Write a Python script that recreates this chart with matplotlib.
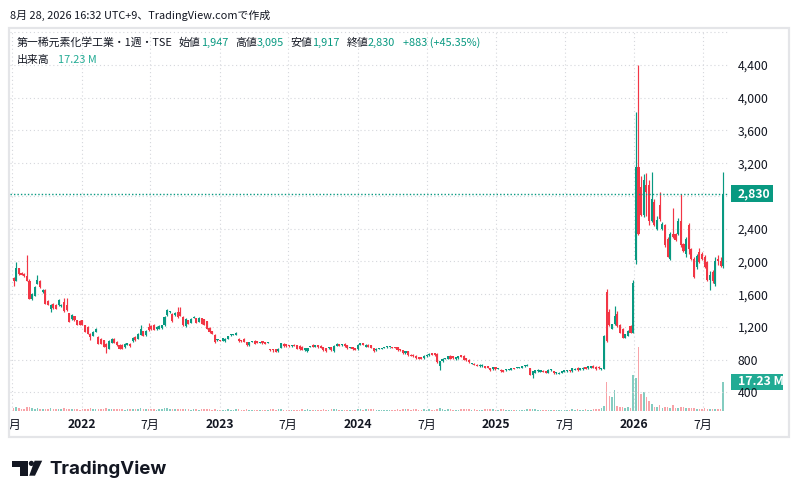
import numpy as np
import pandas as pd
import matplotlib
matplotlib.use("Agg")
import matplotlib.pyplot as plt
import matplotlib.dates as mdates
from matplotlib.patches import Rectangle, Polygon, Circle
from matplotlib.transforms import Bbox

plt.rcParams['font.family'] = ['Noto Sans CJK JP', 'DejaVu Sans']

# weekly candles, first bar = week of 2021-07-05
first_week = '2021-07-05'

opens = [
    1794, 1766, 1919, 1860, 1850, 1820, 1766, 1545, 1584, 1725,
    1766, 1624, 1653, 1523, 1422, 1483, 1471, 1463, 1455, 1503,
    1463, 1370, 1293, 1329, 1281, 1273, 1281, 1220, 1200, 1119,
    1091, 1140, 1079, 1051, 1038, 998, 937, 1006, 1051, 1018,
    986, 986, 954, 978, 998, 1026, 1079, 1059, 1107, 1148,
    1100, 1200, 1212, 1228, 1172, 1180, 1188, 1220, 1342, 1383,
    1363, 1342, 1383, 1383, 1322, 1212, 1281, 1253, 1310, 1310,
    1261, 1310, 1294, 1269, 1188, 1151, 1106, 1037, 1040, 1033,
    1025, 1058, 1098, 1100, 1106, 1058, 1037, 1058, 1017, 976,
    1017, 1033, 1025, 1009, 1025, 1017, 1005, 923, 923, 927,
    902, 942, 995, 991, 975, 965, 983, 975, 971, 955,
    914, 902, 955, 983, 955, 975, 971, 955, 942, 938,
    955, 902, 971, 991, 975, 995, 975, 942, 955, 942,
    930, 983, 1004, 955, 983, 975, 942, 914, 930, 930,
    942, 950, 953, 955, 955, 955, 922, 914, 881, 906,
    861, 861, 849, 833, 828, 820, 841, 853, 881, 881,
    873, 719, 780, 808, 808, 849, 841, 808, 820, 853,
    849, 820, 800, 751, 751, 739, 719, 719, 719, 719,
    698, 686, 710, 690, 678, 670, 670, 678, 678, 698,
    698, 698, 698, 719, 727, 698, 617, 637, 658, 649,
    666, 658, 637, 670, 664, 635, 627, 644, 656, 660,
    672, 660, 680, 705, 680, 684, 713, 696, 705, 725,
    717, 717, 684, 690, 1630, 1380, 1180, 1234, 1356, 1225,
    1180, 1071, 1091, 1213, 1132, 2020, 3150, 2910, 2570, 2940,
    2940, 2490, 2730, 2400, 2690, 2400, 2440, 2280, 2030, 2340,
    2330, 2340, 2500, 2210, 2090, 2440, 2150, 2030, 1930, 2110,
    2090, 2050, 1990, 1770, 1870, 1730, 2030, 2010, 1947,
]

highs = [
    1810, 1990, 1925, 1870, 1860, 2075, 1780, 1620, 1705, 1830,
    1770, 1665, 1660, 1530, 1480, 1490, 1480, 1540, 1480, 1560,
    1560, 1375, 1360, 1335, 1285, 1280, 1290, 1225, 1210, 1125,
    1150, 1190, 1085, 1060, 1045, 1005, 1035, 1065, 1060, 1025,
    990, 992, 1005, 1010, 1005, 1075, 1085, 1125, 1228, 1155,
    1160, 1253, 1220, 1235, 1210, 1220, 1228, 1330, 1416, 1400,
    1370, 1385, 1444, 1444, 1330, 1310, 1290, 1310, 1334, 1315,
    1318, 1315, 1300, 1275, 1195, 1155, 1110, 1050, 1045, 1070,
    1065, 1095, 1110, 1110, 1140, 1062, 1040, 1060, 1022, 1020,
    1030, 1037, 1030, 1022, 1030, 1022, 1015, 927, 927, 930,
    940, 1010, 1000, 998, 980, 985, 990, 985, 978, 962,
    948, 948, 968, 990, 980, 980, 975, 960, 946, 950,
    960, 975, 1005, 998, 990, 1004, 980, 960, 960, 948,
    988, 1008, 1010, 988, 990, 980, 948, 938, 946, 946,
    960, 962, 960, 960, 958, 958, 926, 918, 906, 910,
    866, 866, 854, 838, 832, 853, 866, 878, 886, 886,
    878, 790, 816, 826, 846, 856, 846, 838, 846, 858,
    854, 825, 804, 764, 756, 744, 744, 744, 724, 724,
    702, 715, 715, 700, 682, 674, 682, 690, 702, 702,
    714, 714, 722, 730, 745, 702, 665, 676, 684, 676,
    670, 662, 682, 690, 668, 656, 650, 668, 680, 676,
    676, 700, 698, 710, 700, 708, 716, 725, 725, 735,
    722, 720, 705, 1100, 1660, 1420, 1240, 1457, 1400, 1235,
    1190, 1120, 1160, 1225, 1771, 3830, 4400, 3050, 3070, 3080,
    2990, 3090, 2760, 2560, 2850, 2480, 2460, 2300, 2360, 2650,
    2350, 2530, 2830, 2230, 2300, 2470, 2170, 2050, 2090, 2160,
    2110, 2080, 2010, 1880, 1890, 2060, 2080, 2050, 3095,
]

lows = [
    1705, 1760, 1840, 1830, 1815, 1760, 1540, 1535, 1580, 1720,
    1680, 1620, 1480, 1465, 1380, 1425, 1415, 1460, 1450, 1385,
    1395, 1255, 1285, 1275, 1220, 1222, 1220, 1135, 1110, 1038,
    1085, 1135, 990, 990, 950, 877, 930, 1000, 1005, 970,
    930, 930, 948, 975, 960, 1020, 1030, 1055, 1100, 1085,
    1095, 1150, 1165, 1160, 1165, 1175, 1180, 1215, 1335, 1375,
    1265, 1335, 1315, 1330, 1215, 1205, 1235, 1245, 1305, 1248,
    1255, 1235, 1220, 1175, 1130, 1110, 1010, 1030, 1025, 1028,
    1020, 1050, 1095, 1098, 1100, 1020, 1020, 1012, 970, 970,
    1012, 988, 1005, 1005, 996, 990, 1000, 905, 900, 890,
    895, 938, 958, 960, 960, 960, 965, 930, 925, 918,
    908, 898, 950, 950, 950, 946, 938, 908, 890, 932,
    902, 898, 966, 966, 970, 958, 936, 938, 925, 915,
    925, 978, 978, 950, 950, 938, 896, 910, 926, 926,
    938, 946, 948, 938, 938, 910, 908, 876, 876, 846,
    844, 836, 815, 804, 804, 815, 836, 848, 856, 848,
    765, 670, 776, 804, 804, 804, 815, 792, 815, 828,
    795, 788, 762, 746, 734, 722, 714, 714, 694, 694,
    665, 680, 680, 686, 654, 645, 666, 674, 674, 682,
    694, 694, 694, 715, 722, 612, 576, 632, 654, 645,
    645, 632, 632, 666, 630, 630, 622, 640, 652, 656,
    656, 656, 676, 668, 676, 680, 688, 692, 700, 700,
    676, 692, 680, 685, 1020, 1210, 1170, 1225, 1205, 1125,
    1065, 1060, 1085, 1125, 1125, 1970, 2320, 2560, 2540, 2560,
    2440, 2480, 2430, 2380, 2500, 2390, 2180, 2050, 2020, 2290,
    2250, 2320, 2180, 2120, 2060, 2090, 2020, 1800, 1910, 1980,
    2020, 1920, 1760, 1650, 1740, 1700, 1960, 1930, 1917,
]

closes = [
    1758, 1919, 1846, 1840, 1826, 1766, 1543, 1600, 1693, 1774,
    1685, 1657, 1483, 1471, 1471, 1430, 1422, 1535, 1470, 1390,
    1402, 1261, 1341, 1281, 1228, 1228, 1228, 1140, 1119, 1079,
    1140, 1180, 998, 998, 958, 958, 1026, 1059, 1010, 978,
    937, 937, 998, 1002, 966, 1067, 1038, 1119, 1180, 1091,
    1150, 1159, 1172, 1167, 1200, 1212, 1220, 1322, 1404, 1391,
    1269, 1375, 1322, 1334, 1220, 1302, 1241, 1302, 1322, 1253,
    1310, 1241, 1228, 1180, 1139, 1119, 1017, 1045, 1033, 1066,
    1058, 1090, 1106, 1106, 1131, 1025, 1025, 1017, 976, 1017,
    1025, 992, 1009, 1017, 1001, 996, 1010, 915, 915, 895,
    934, 1004, 963, 967, 965, 978, 971, 934, 930, 922,
    942, 942, 963, 955, 975, 951, 942, 914, 902, 945,
    922, 971, 995, 971, 983, 963, 942, 955, 930, 922,
    983, 1000, 983, 983, 955, 942, 902, 934, 942, 942,
    955, 957, 956, 942, 942, 914, 914, 881, 902, 852,
    849, 841, 820, 808, 808, 849, 861, 873, 861, 853,
    772, 780, 812, 820, 841, 808, 820, 833, 841, 833,
    800, 792, 767, 759, 739, 727, 739, 739, 698, 698,
    670, 710, 686, 695, 658, 649, 678, 686, 698, 686,
    710, 710, 719, 727, 735, 617, 658, 670, 678, 670,
    649, 637, 678, 686, 635, 652, 644, 664, 676, 672,
    660, 696, 692, 672, 696, 705, 692, 721, 721, 705,
    684, 696, 700, 1095, 1030, 1220, 1234, 1335, 1213, 1132,
    1071, 1112, 1152, 1132, 1734, 3150, 2330, 2570, 2990, 2850,
    2500, 2760, 2440, 2510, 2520, 2460, 2200, 2060, 2340, 2300,
    2260, 2500, 2200, 2130, 2280, 2150, 2030, 1810, 2070, 1990,
    2030, 1930, 1770, 1840, 1760, 2000, 2000, 1947, 2830,
]

# volume in millions of shares
volumes = [
    1.8, 2.4, 1.6, 1.2, 1.0, 2.6, 2.2, 1.8, 1.4, 1.6, 1.2, 1.0, 1.4,
    1.2, 1.6, 1.0, 0.9, 1.2, 1.0, 1.5, 1.3, 1.4, 1.0, 0.9, 1.1, 0.8,
    1.0, 1.3, 1.2, 1.5, 1.1, 1.0, 1.4, 1.2, 1.3, 1.6, 1.2, 1.0, 0.9,
    1.0, 1.1, 0.9, 0.8, 1.0, 0.9, 1.2, 1.0, 1.3, 1.6, 1.2, 1.0, 1.1,
    0.9, 1.0, 0.8, 0.9, 1.0, 1.5, 1.7, 1.2, 1.3, 1.0, 1.4, 1.2, 1.1,
    1.0, 0.9, 0.8, 0.9, 1.0, 0.8, 0.9, 1.0, 1.1, 0.9, 0.8, 1.2, 0.7,
    0.6, 0.8, 0.7, 0.9, 0.8, 0.7, 1.0, 0.9, 0.6, 0.7, 0.9, 0.8, 0.6,
    0.7, 0.6, 0.5, 0.6, 0.7, 0.6, 1.2, 0.9, 0.8, 0.9, 1.1, 0.8, 0.7,
    0.6, 0.7, 0.6, 0.8, 0.7, 0.9, 0.8, 1.0, 0.7, 0.6, 0.7, 0.8, 0.7,
    0.9, 0.8, 0.6, 0.9, 1.1, 0.9, 0.7, 0.6, 0.8, 0.7, 0.6, 0.8, 0.7,
    1.0, 0.9, 0.8, 0.9, 1.1, 1.0, 1.2, 0.8, 0.7, 0.8, 0.7, 0.6, 0.7,
    0.8, 0.7, 1.0, 0.8, 1.1, 0.9, 1.2, 0.8, 0.9, 1.0, 0.8, 0.7, 0.9,
    0.8, 0.9, 0.7, 0.8, 1.4, 1.6, 1.0, 0.8, 0.9, 1.0, 0.8, 0.7, 0.8,
    0.9, 1.0, 0.9, 1.1, 0.8, 0.9, 0.8, 0.7, 0.8, 0.9, 1.0, 1.2, 0.9,
    0.8, 0.7, 0.9, 1.0, 0.8, 0.7, 0.8, 0.7, 0.6, 0.7, 0.8, 0.7, 0.9,
    1.4, 1.2, 0.9, 0.8, 0.7, 0.8, 0.7, 0.8, 0.7, 0.8, 0.6, 0.7, 0.8,
    0.7, 0.8, 0.6, 0.9, 0.8, 1.0, 0.7, 0.8, 0.9, 0.7, 0.8, 1.0, 1.1,
    1.3, 2.0,
    3.0, 17.3, 9.0, 8.1, 12.2, 3.0, 2.6, 2.4, 2.0, 2.2,
    1.8, 21.3, 19.3, 37.6, 10.2, 11.2, 8.1, 6.1, 4.1, 2.4,
    2.6, 3.7, 2.0, 2.6, 2.4, 2.0, 3.7, 2.0, 2.0, 2.6,
    2.4, 2.0, 2.0, 1.6, 1.6, 1.4, 1.0, 1.0, 1.6, 1.2,
    1.2, 1.2, 1.2, 1.2, 1.2, 17.23,
]

price_ticks = [400, 800, 1200, 1600, 2000, 2400, 3200, 3600, 4000, 4400]
grid_prices = [400, 800, 1200, 1600, 2000, 2400, 2800, 3200, 3600, 4000, 4400, 4800]
month_ticks = ['2021-07-01', '2022-01-01', '2022-07-01', '2023-01-01', '2023-07-01',
               '2024-01-01', '2024-07-01', '2025-01-01', '2025-07-01', '2026-01-01',
               '2026-07-01']
month_labels = ['7月', '2022', '7月', '2023', '7月', '2024', '7月', '2025', '7月',
                '2026', '7月']

header_date = '8月 28, 2026 16:32 UTC+9、TradingView.comで作成'
symbol_title = '第一稀元素化学工業・1週・TSE'
volume_label = '出来高'

UP = '#089981'
DOWN = '#f23645'
VOL_UP = '#84ccc0'
VOL_DOWN = '#f8a3a8'
TEXT = '#131722'
GRID = '#d5d7dc'

W, H = 798, 499
PANE_L, PANE_T, PANE_R, PANE_B = 10, 30, 728, 411
HEAD_SIZE = 7.85


def px_axes(fig, left, top, right, bottom):
    return fig.add_axes([left / W, 1 - bottom / H, (right - left) / W, (bottom - top) / H])


def draw_runs(axis, renderer, x, y, runs, size):
    """Draw colored text pieces one after another on one baseline."""
    for txt, col, gap in runs:
        x += gap
        t = axis.text(x, y, txt, color=col, fontsize=size, va='baseline', ha='left')
        x += t.get_window_extent(renderer).width


def draw_logo(bg, renderer):
    k = '#131722'
    bg.add_patch(Polygon([(11.7, 460.7), (28.3, 460.7), (28.3, 475.7), (20.0, 475.7),
                          (20.0, 466.7), (11.7, 466.7)], closed=True, fc=k, ec='none'))
    bg.add_patch(Circle((31.4, 463.4), 2.6, fc=k, ec='none'))
    bg.add_patch(Polygon([(34.6, 460.7), (42.2, 460.7), (35.0, 475.7), (29.2, 475.7)],
                         closed=True, fc=k, ec='none'))
    t = bg.text(49, 474.5, 'TradingView', fontsize=14, weight='bold', color=k,
                family=['Inter', 'DejaVu Sans'], va='baseline')
    w = t.get_window_extent(renderer).width
    t.set_fontsize(14 * 118.0 / w)


if __name__ == "__main__":
    assert len(opens) == len(highs) == len(lows) == len(closes) == len(volumes)

    fig = plt.figure(figsize=(W / 100, H / 100), dpi=100)
    renderer = fig.canvas.get_renderer()

    bg = fig.add_axes([0, 0, 1, 1])
    bg.set_xlim(0, W)
    bg.set_ylim(H, 0)
    bg.axis('off')
    bg.add_patch(Rectangle((9, 28), 780, 409, fill=False, ec='#e4e5e8', lw=1.6))

    ax = px_axes(fig, PANE_L, PANE_T, PANE_R, PANE_B)
    vax = ax.twinx()
    ax.set_zorder(vax.get_zorder() + 1)
    ax.patch.set_visible(False)

    dates = pd.date_range(first_week, periods=len(closes), freq='7D')
    x = mdates.date2num(dates)
    o = np.array(opens, float)
    h = np.array(highs, float)
    l = np.array(lows, float)
    c = np.array(closes, float)
    v = np.array(volumes, float)
    up = c >= o

    # scales
    ymin, ymax = 174.0, 4827.0
    ax.set_ylim(ymin, ymax)
    x_left = mdates.date2num(pd.Timestamp('2022-01-01')) - 189.5
    x_right = mdates.date2num(pd.Timestamp('2026-01-01')) + 247.7
    ax.set_xlim(x_left, x_right)
    vtop = 17.23 * (PANE_B - PANE_T) / 29.3
    vax.set_ylim(0, vtop)

    # grid
    for g in grid_prices:
        ax.axhline(g, color=GRID, lw=0.8, ls=(0, (1, 2.5)), zorder=0)
    tick_x = mdates.date2num(pd.to_datetime(month_ticks))
    for tx in tick_x:
        ax.axvline(tx, color=GRID, lw=0.8, ls=(0, (1, 2.5)), zorder=0)

    # volume
    vax.bar(x, v, width=4.2, color=np.where(up, VOL_UP, VOL_DOWN), lw=0, zorder=1)

    # candles
    colors = np.where(up, UP, DOWN)
    per_px = (ymax - ymin) / (PANE_B - PANE_T)
    body_lo = np.minimum(o, c)
    body_h = np.maximum(np.abs(c - o), per_px * 1.0)
    ax.vlines(x, l, h, colors=colors, lw=0.85, zorder=3)
    ax.bar(x, body_h, width=5.5, bottom=body_lo, color=colors, lw=0, zorder=4)

    # last price line
    ax.axhline(c[-1], color=UP, lw=1.0, ls=(0, (1, 1.5)), zorder=5)

    # price scale
    ax.yaxis.tick_right()
    ax.set_yticks(price_ticks)
    ax.set_yticklabels([f'{t:,}' for t in price_ticks])
    ax.tick_params(axis='y', length=0, pad=7.2, labelsize=8.8, labelcolor=TEXT)
    ax.set_xticks([])
    vax.set_yticks([])
    for a in (ax, vax):
        for s in a.spines.values():
            s.set_visible(False)

    # last price / last volume tags
    ytr = ax.get_yaxis_transform()
    frac = lambda px: (px - PANE_L) / (PANE_R - PANE_L)
    ax.add_patch(Rectangle((frac(731), c[-1] - 8.5 * per_px), frac(773) - frac(731), 17 * per_px,
                           transform=ytr, fc=UP, ec='none', clip_on=False, zorder=6))
    ax.text(frac(737.5), c[-1], f'{int(c[-1]):,}', transform=ytr, color='white',
            fontsize=8.8, weight='bold', va='center', ha='left', clip_on=False, zorder=7)
    vtr = vax.get_yaxis_transform()
    v_per_px = vtop / (PANE_B - PANE_T)
    vax.add_patch(Rectangle((frac(731), v[-1] - 8 * v_per_px), frac(783) - frac(731), 16 * v_per_px,
                            transform=vtr, fc='#22ab94', ec='none', clip_on=False, zorder=6))
    vax.text(frac(738), v[-1], f'{v[-1]:.2f} M', transform=vtr, color='white',
             fontsize=8.8, weight='bold', va='center', ha='left', clip_on=False, zorder=7)

    # time scale labels (the first one is cut by the pane edge)
    xtr = ax.get_xaxis_transform()
    clip = Bbox.from_extents(PANE_L, H - 437, 790, H - PANE_B)
    label_y = (PANE_B - 425) / (PANE_B - PANE_T)
    for tx, lab in zip(tick_x, month_labels):
        t = ax.text(tx, label_y, lab, transform=xtr, ha='center', va='center',
                    fontsize=8.8, color=TEXT, weight='bold' if lab.isdigit() else 'normal',
                    clip_on=True)
        t.set_clip_box(clip)

    # header
    bg.text(10, 19, header_date, fontsize=HEAD_SIZE, color=TEXT, va='baseline')
    change = c[-1] - c[-2]
    draw_runs(bg, renderer, 17, 46, [
        (symbol_title, TEXT, 0), ('始値', TEXT, 6), (f'{int(o[-1]):,}', UP, 0),
        ('高値', TEXT, 7), (f'{int(h[-1]):,}', UP, 0),
        ('安値', TEXT, 6), (f'{int(l[-1]):,}', UP, 0),
        ('終値', TEXT, 7), (f'{int(c[-1]):,}', UP, 0),
        (f'+{int(change):,} (+{change / c[-2] * 100:.2f}%)', UP, 8),
    ], HEAD_SIZE)
    draw_runs(bg, renderer, 17, 63, [
        (volume_label, TEXT, 0), (f'{v[-1]:.2f} M', '#22ab94', 8),
    ], HEAD_SIZE)

    draw_logo(bg, renderer)

    fig.savefig('out.png', dpi=100)
